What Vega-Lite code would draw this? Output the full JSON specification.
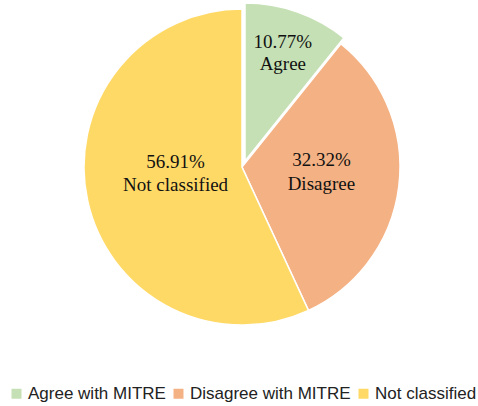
{
  "$schema": "https://vega.github.io/schema/vega-lite/v6.json",
  "width": 470,
  "height": 316,
  "padding": {"left": 7, "top": 0, "right": 1, "bottom": 2},
  "background": "white",
  "config": {"view": {"stroke": null}},
  "data": {
    "values": [
      {"category": "Agree with MITRE", "share": 10.77, "label": "10.77%\nAgree"},
      {"category": "Disagree with MITRE", "share": 32.32, "label": "32.32%\nDisagree"},
      {"category": "Not classified", "share": 56.91, "label": "56.91%\nNot classified"}
    ]
  },
  "encoding": {
    "theta": {"field": "share", "type": "quantitative", "stack": true},
    "order": {"field": "category", "type": "nominal", "sort": "ascending"}
  },
  "layer": [
    {
      "mark": {"type": "arc", "stroke": "white", "strokeWidth": 1.5},
      "encoding": {
        "color": {
          "field": "category", "type": "nominal",
          "scale": {"domain": ["Agree with MITRE", "Disagree with MITRE", "Not classified"], "range": ["#c5e0b4", "#f4b183", "#ffd966"]},
          "legend": {
            "orient": "none", "legendX": 1, "legendY": 376, "direction": "horizontal", "title": null,
            "symbolType": "square", "symbolSize": 100, "symbolStrokeWidth": 0, "symbolOpacity": 1,
            "labelFont": "Liberation Sans", "labelFontSize": 17, "labelColor": "#222222", "labelLimit": 400,
            "columnPadding": 4, "labelOffset": 3
          }
        },
        "opacity": {"condition": {"test": "datum.category === 'Agree with MITRE'", "value": 0}, "value": 1}
      }
    },
    {
      "mark": {"type": "arc", "stroke": "white", "strokeWidth": 1.5, "xOffset": 3, "yOffset": -6},
      "encoding": {
        "color": {"field": "category", "type": "nominal"},
        "opacity": {"condition": {"test": "datum.category === 'Agree with MITRE'", "value": 1}, "value": 0}
      }
    },
    {
      "mark": {"type": "text", "radius": 114, "xOffset": 3, "yOffset": -6, "dy": -11, "font": "Liberation Serif", "fontSize": 19, "lineBreak": "\n", "lineHeight": 22, "color": "#111111", "baseline": "middle"},
      "encoding": {
        "text": {"condition": {"test": "datum.category === 'Agree with MITRE'", "field": "label"}, "value": ""}
      }
    },
    {
      "mark": {"type": "text", "radius": 80, "dy": -17, "font": "Liberation Serif", "fontSize": 19, "lineBreak": "\n", "lineHeight": 24, "color": "#111111", "baseline": "middle"},
      "encoding": {
        "text": {"condition": {"test": "datum.category === 'Disagree with MITRE'", "field": "label"}, "value": ""}
      }
    },
    {
      "mark": {"type": "text", "radius": 68, "dy": -20, "font": "Liberation Serif", "fontSize": 19, "lineBreak": "\n", "lineHeight": 23, "color": "#111111", "baseline": "middle"},
      "encoding": {
        "text": {"condition": {"test": "datum.category === 'Not classified'", "field": "label"}, "value": ""}
      }
    }
  ]
}
